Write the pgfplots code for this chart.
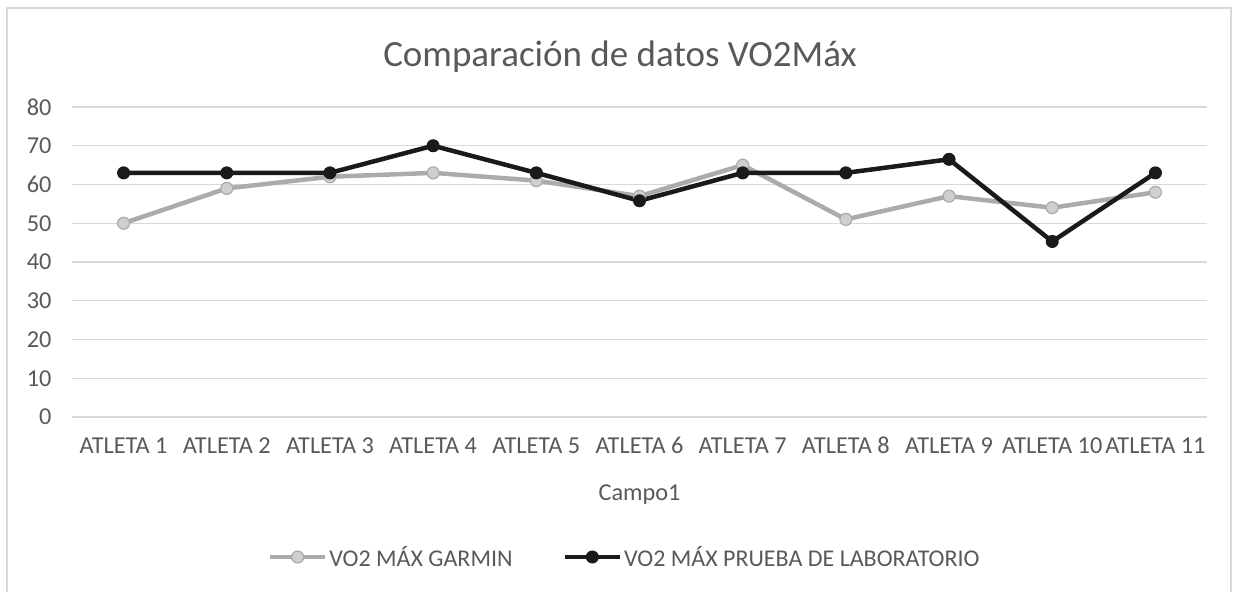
\documentclass[border=0pt]{standalone}
\usepackage{pgfplots}
\pgfplotsset{compat=1.18}
\usepackage{fontspec}
\setmainfont{Carlito}
\definecolor{txt}{HTML}{595959}
\definecolor{gridc}{HTML}{D9D9D9}
\definecolor{garline}{HTML}{AEAAAA}
\definecolor{garfill}{HTML}{D0CECE}
\definecolor{labline}{HTML}{1A1A1A}
\begin{document}
\begin{tikzpicture}[x=1pt,y=1pt]
\path[use as bounding box] (0,0) rectangle (1233,592);
\draw[gridc, line width=1.5pt] (7,0) -- (7,584) -- (1231,584) -- (1231,0);
\node[txt, font=\fontsize{37}{44}\selectfont, anchor=base] at (620,525) {Comparación de datos VO2Máx};
\begin{axis}[
  at={(72pt,175pt)}, anchor=south west,
  scale only axis, width=1135pt, height=310pt,
  xmin=-0.5, xmax=10.5, ymin=0, ymax=80,
  ytick={0,10,...,80},
  xtick={0,...,10},
  xticklabels={ATLETA 1,ATLETA 2,ATLETA 3,ATLETA 4,ATLETA 5,ATLETA 6,ATLETA 7,ATLETA 8,ATLETA 9,ATLETA 10,ATLETA 11},
  /pgf/number format/assume math mode=true,
  tick label style={txt, font=\fontsize{24.3}{29}\selectfont},
  xticklabel style={yshift=-17pt, text depth=0pt, text height=16pt},
  yticklabel style={xshift=-17pt},
  ymajorgrids, major grid style={gridc, line width=1.3pt},
  axis line style={draw=none},
  major tick style={draw=none},
  xlabel={Campo1},
  xlabel style={txt, font=\fontsize{24.3}{29}\selectfont, yshift=-24pt},
  legend style={at={(0.487,-0.4516)}, anchor=center, draw=none, fill=none,
    font=\fontsize{24}{28}\selectfont, text=txt, legend columns=2,
    /tikz/every even column/.append style={column sep=48pt}},
  legend image code/.code={\draw[#1] (0pt,0pt) -- (55pt,0pt); \draw[#1, mark repeat=2, mark phase=2] plot coordinates {(0pt,0pt) (27.5pt,0pt) (55pt,0pt)};},
  clip=false,
]
\addplot[garline, line width=4.5pt, mark=*, mark size=6pt, mark options={fill=garfill, draw=garline, line width=1.2pt}]
  coordinates {(0,50) (1,59) (2,62) (3,63) (4,61) (5,57) (6,65) (7,51) (8,57) (9,54) (10,58)};
\addlegendentry{VO2 MÁX GARMIN}
\addplot[labline, line width=4.5pt, mark=*, mark size=6pt, mark options={fill=labline, draw=labline, line width=1pt}]
  coordinates {(0,63) (1,63) (2,63) (3,70) (4,63) (5,55.8) (6,63) (7,63) (8,66.5) (9,45.3) (10,63)};
\addlegendentry{VO2 MÁX PRUEBA DE LABORATORIO}
\end{axis}
\end{tikzpicture}
\end{document}
